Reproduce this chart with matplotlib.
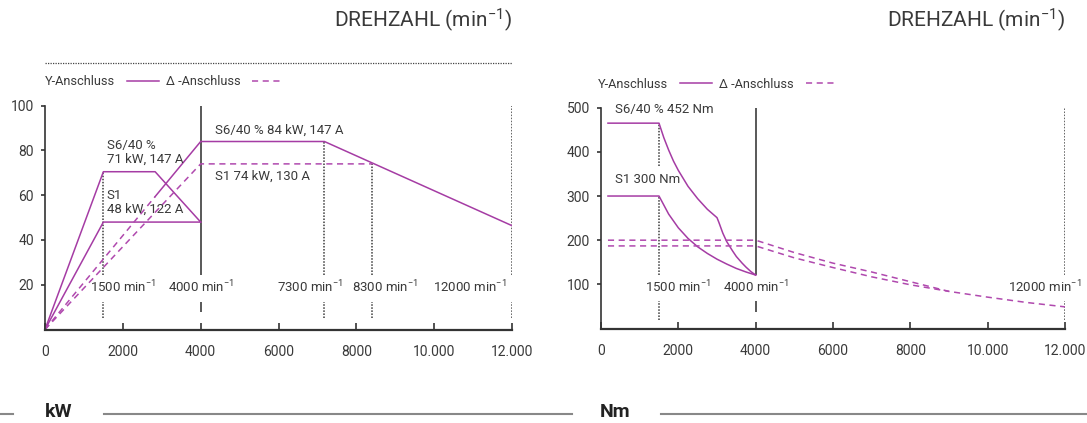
import matplotlib
matplotlib.use("Agg")
import matplotlib.pyplot as plt

plt.rcParams['font.family'] = ['Roboto', 'DejaVu Sans']
plt.rcParams['mathtext.default'] = 'regular'

MAG = '#a53ca4'
MAG_D = '#b049ae'
TXT = '#3a3a3a'
REF = '#3c3c3c'

# ---- Leistung (kW) ----
y_s6_rpm = [0, 1500, 2830, 4000]
y_s6_kw = [0, 70.5, 70.5, 48]
y_s1_rpm = [0, 1500, 4000]
y_s1_kw = [0, 48, 48]
d_s6_rpm_low = [0, 2830]
d_s6_kw_low = [0, 59.4]
d_s6_rpm = [2830, 4000, 7180, 12000]
d_s6_kw = [59.4, 84, 84, 46.4]
d_s1_rpm = [0, 4000, 8410]
d_s1_kw = [0, 74, 74]

# ---- Drehmoment (Nm) ----
t_y_s6_rpm = [180, 1500, 1625, 1750, 1875, 2000, 2250, 2500, 2750, 3000,
              3050, 3150, 3250, 3400, 3500, 3650, 3750, 3875, 4000]
t_y_s6_nm = [465, 465, 432, 404, 379, 358, 322, 294, 270, 251,
             240, 216, 197, 176, 163, 148, 139, 129, 121]
t_y_s1_rpm = [180, 1500, 1750, 2000, 2250, 2500, 2750, 3000, 3250, 3500, 3750, 4000]
t_y_s1_nm = [300, 300, 259, 228, 204, 185, 170, 157, 146, 136, 128, 121]
t_d_s6_rpm = [180, 4000, 5000, 6000, 7000, 8000, 9000, 10000, 11000, 12000]
t_d_s6_nm = [200, 200, 172, 148, 128, 106, 84, 71, 59, 49]
t_d_s1_rpm = [180, 4000, 5000, 6000, 7000, 8000, 9000]
t_d_s1_nm = [187, 187, 160, 138, 117, 99, 84]

xticks = [0, 2000, 4000, 6000, 8000, 10000, 12000]
xticklabels = ['0', '2000', '4000', '6000', '8000', '10.000', '12.000']

fig = plt.figure(figsize=(10.87, 4.23), dpi=100)
ax1 = fig.add_axes([45/1087, 93.5/423, 467/1087, 223.8/423])
ax2 = fig.add_axes([601/1087, 94.5/423, 464/1087, 220.8/423])


def style(ax, ymax, yticks):
    ax.set_xlim(0, 12000)
    ax.set_ylim(0, ymax)
    for s in ['top', 'right']:
        ax.spines[s].set_visible(False)
    ax.spines['left'].set_color('#333333')
    ax.spines['left'].set_linewidth(1.2)
    ax.spines['bottom'].set_color('#333333')
    ax.spines['bottom'].set_linewidth(1.6)
    ax.set_xticks(xticks)
    ax.set_xticklabels(xticklabels)
    ax.set_yticks(yticks)
    ax.tick_params(axis='x', direction='in', length=5, width=1.2, pad=11,
                   labelsize=10, colors='#333333', labelcolor=TXT)
    ax.tick_params(axis='y', direction='out', length=3, width=1.2, pad=5,
                   labelsize=10, colors='#333333', labelcolor=TXT)


def min_label(ax, x, y, n):
    ax.text(x, y, n + r' min$^{-1}$', ha='center', va='center',
            fontsize=9.5, color=TXT)


style(ax1, 100, [20, 40, 60, 80, 100])
style(ax2, 500, [100, 200, 300, 400, 500])

# reference lines left
dot = dict(color=REF, lw=1.1, linestyle=(0, (1, 1)))
ax1.vlines(1500, 24.4, 70.5, **dot)
ax1.vlines(7180, 24.4, 84, **dot)
ax1.vlines(8410, 24.4, 74, **dot)
ax1.vlines(12000, 24.4, 100, **dot)
ax1.vlines([1500, 7180, 8410, 12000], 5, 12.5, **dot)
ax1.vlines(4000, 24.4, 100, color=REF, lw=1.2)
ax1.vlines(4000, 8, 12.5, color=REF, lw=1.2)

# curves left
l_y, = ax1.plot(y_s6_rpm, y_s6_kw, color=MAG, lw=1.1, label='Y-Anschluss')
ax1.plot(y_s1_rpm, y_s1_kw, color=MAG, lw=1.1)
ax1.plot(d_s6_rpm, d_s6_kw, color=MAG, lw=1.1)
l_d, = ax1.plot(d_s6_rpm_low, d_s6_kw_low, color=MAG_D, lw=1.1,
                dashes=(4, 3), label='Δ -Anschluss')
ax1.plot(d_s1_rpm, d_s1_kw, color=MAG_D, lw=1.1, dashes=(4, 3))

ax1.text(1585, 79.1, 'S6/40 %\n71 kW, 147 A', fontsize=9.5, color=TXT,
         va='center', ha='left', linespacing=1.05)
ax1.text(1585, 56.7, 'S1\n48 kW, 122 A', fontsize=9.5, color=TXT,
         va='center', ha='left', linespacing=1.1)
ax1.text(4368, 89.1, 'S6/40 % 84 kW, 147 A', fontsize=9.5, color=TXT, va='center')
ax1.text(4368, 68.3, 'S1 74 kW, 130 A', fontsize=9.5, color=TXT, va='center')

min_label(ax1, 2004, 19, '1500')
min_label(ax1, 4000, 19, '4000')
min_label(ax1, 6810, 19, '7300')
min_label(ax1, 8740, 19, '8300')
min_label(ax1, 10920, 19, '12000')

# reference lines right
ax2.vlines(1500, 369, 465, **dot)
ax2.vlines(1500, 121, 300, **dot)
ax2.vlines(12000, 121, 500, **dot)
ax2.vlines([1500, 12000], 20, 62, **dot)
ax2.vlines(4000, 121, 500, color=REF, lw=1.2)
ax2.vlines(4000, 37, 62, color=REF, lw=1.2)

r_y, = ax2.plot(t_y_s6_rpm, t_y_s6_nm, color=MAG, lw=1.1, label='Y-Anschluss')
ax2.plot(t_y_s1_rpm, t_y_s1_nm, color=MAG, lw=1.1)
r_d, = ax2.plot(t_d_s6_rpm, t_d_s6_nm, color=MAG_D, lw=1.1, dashes=(4, 3),
                label='Δ -Anschluss')
ax2.plot(t_d_s1_rpm, t_d_s1_nm, color=MAG_D, lw=1.1, dashes=(4, 3))

ax2.text(362, 497, 'S6/40 % 452 Nm', fontsize=9.5, color=TXT, va='center')
ax2.text(362, 337, 'S1 300 Nm', fontsize=9.5, color=TXT, va='center')

min_label(ax2, 1991, 95, '1500')
min_label(ax2, 4010, 95, '4000')
min_label(ax2, 11480, 95, '12000')

# legends
for ax, handles, xoff in [(ax1, [l_y, l_d], 0.0), (ax2, [r_y, r_d], -0.006)]:
    ax.legend(handles=handles, ncol=2, markerfirst=False, frameon=False,
              loc='center left', bbox_to_anchor=(xoff, 1.106), fontsize=9.2,
              borderpad=0, borderaxespad=0, handlelength=2.5,
              handletextpad=0.9, columnspacing=0.6, labelcolor=TXT)

# dotted line above left chart
ax1.plot([0, 1], [1.19, 1.19], transform=ax1.transAxes, clip_on=False,
         color='#444444', lw=0.9, linestyle=(0, (1, 1)))

# headers
fig.text(512/1087, 1 - 20/423, r'DREHZAHL (min$^{-1}$)', ha='right', va='center',
         fontsize=15, color=TXT)
fig.text(1065/1087, 1 - 20/423, r'DREHZAHL (min$^{-1}$)', ha='right', va='center',
         fontsize=15, color=TXT)

# bottom unit labels with rules
yb = 1 - 414/423
fig.add_artist(plt.Line2D([0, 13/1087], [yb, yb], color='#888888', lw=1.5))
fig.add_artist(plt.Line2D([104/1087, 572/1087], [yb, yb], color='#888888', lw=1.5))
fig.add_artist(plt.Line2D([661/1087, 1], [yb, yb], color='#888888', lw=1.5))
fig.text(45/1087, 1 - 412/423, 'kW', fontsize=14, fontweight='bold',
         color='#222222', ha='left', va='center')
fig.text(600/1087, 1 - 412/423, 'Nm', fontsize=14, fontweight='bold',
         color='#222222', ha='left', va='center')

fig.savefig('out.png', dpi=100)
